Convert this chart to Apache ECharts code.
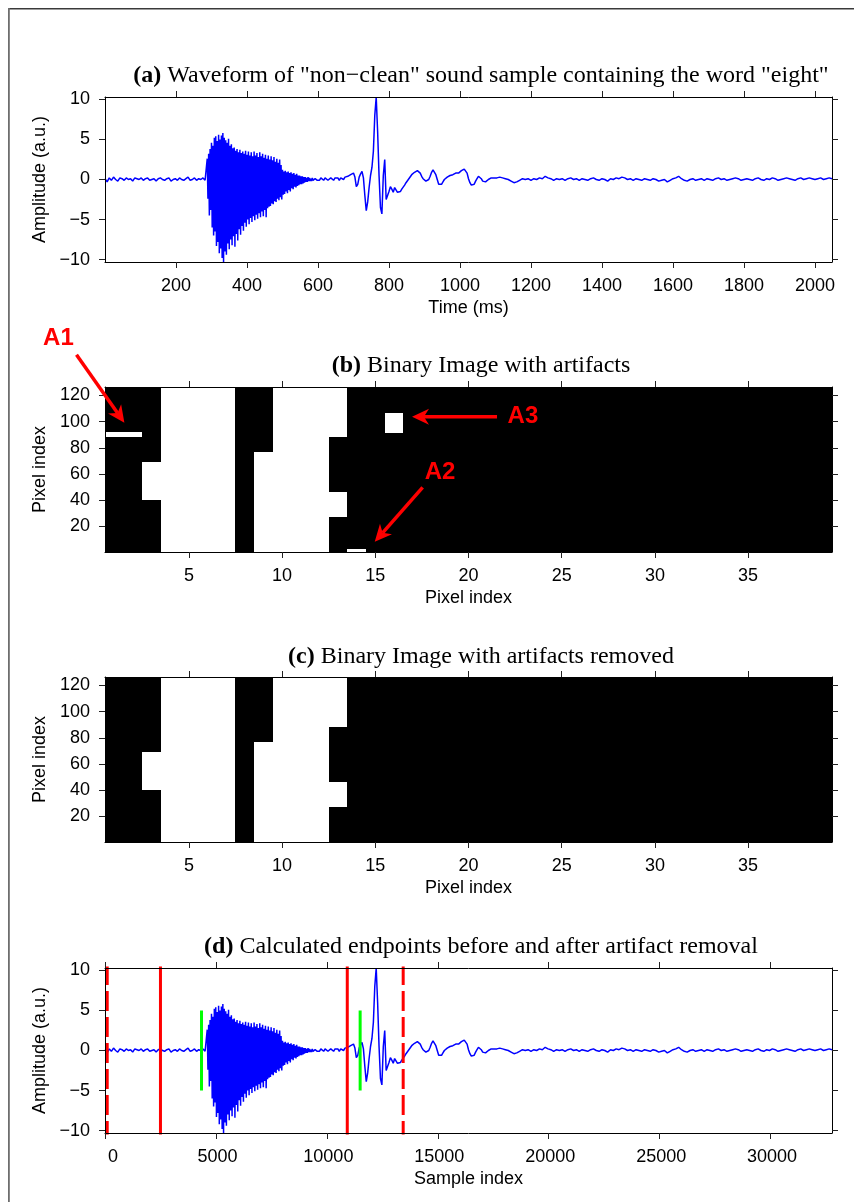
<!DOCTYPE html>
<html><head><meta charset="utf-8">
<script src="https://cdn.jsdelivr.net/npm/echarts@6/dist/echarts.min.js"></script>
<style>html,body{margin:0;padding:0;background:#fff}#c{width:854px;height:1202px}</style>
</head><body><div id="c"></div>
<script>
// ---------------- DATA ----------------
// Waveform (amplitude, a.u.), in segments of uniform time step (ms)
const preStartMs = 0, preStepMs = 6;
const preVals = [0.1,-0.3,0.2,-0.1,0.3,0.0,-0.2,0.2,0.1,-0.1,
 0.2,0.0,0.1,-0.2,0.2,0.1,0.0,0.2,-0.1,0.1,
 0.2,-0.1,0.0,0.1,-0.2,0.1,0.2,0.0,-0.1,0.1,
 0.2,-0.2,0.0,0.1,-0.1,0.2,0.0,-0.1,0.1,0.3,
 -0.1,0.0,0.2,-0.1,0.1,0.0,0.2,-0.1];
const burstStartMs = 286, burstStepMs = 2;
const burstVals = [0.1,2.6,-2.4,3.2,-4.5,3.8,-3.8,4.6,-6.0,4.2,
 -7.0,5.2,-6.5,5.4,-8.3,4.8,-7.8,5.6,-9.2,5.0,
 -8.6,5.5,-9.8,5.8,-10.3,5.2,-9.0,4.9,-9.4,4.6,
 -8.0,5.1,-8.7,4.2,-7.5,4.4,-8.2,3.9,-7.1,4.0,
 -8.4,3.6,-6.8,3.8,-7.6,3.4,-6.2,3.7,-6.9,3.3,
 -5.8,3.5,-6.4,3.2,-5.4,3.6,-5.9,3.1,-5.0,3.5,
 -5.6,3.0,-4.8,3.4,-5.3,2.9,-4.6,3.5,-5.1,3.0,
 -4.4,3.3,-4.9,2.8,-4.2,3.4,-4.7,2.9,-4.0,3.2,
 -4.6,2.7,-3.8,3.1,-4.7,2.6,-3.6,3.0,-3.4,2.5,
 -3.3,2.9,-3.0,2.4,-3.1,2.8,-2.7,2.2,-2.8,2.6,
 -2.4,2.1,-2.6,2.5,-2.2,1.8,-2.5,1.2,-1.9,1.0,
 -1.8,1.1,-1.5,0.9,-1.7,1.0,-1.3,0.8,-1.5,0.9,
 -1.1,0.7,-1.2,0.8,-0.9,0.6,-1.0,0.7,-0.8,0.5,
 -0.7,0.5,-0.6,0.4,-0.6,0.4,-0.5,0.3,-0.4,0.3,
 -0.3,0.2,-0.3,0.3,-0.2,0.2,-0.2,0.1,-0.2,0.2,
 -0.1,0.1,-0.2,0.1,0.0,0.2,-0.1];
const midStartMs = 600, midStepMs = 4;
const midVals = [0.1,-0.1,0.2,0.0,-0.1,0.2,0.1,-0.1,0.1,0.2,
 0.0,-0.1,0.2,0.1,0.2,-0.1,0.2,0.1,0.0,0.3,
 0.1,0.4,0.2,0.6,0.5,0.8,0.3,-0.9,-0.6,0.3,
 0.7,1.0,0.2,-2.0,-3.9,-2.8,-1.0,0.5,1.5,3.5,
 8.0,10.3,6.0,0.5,-3.5,-4.3,0.5,2.5,-2.5,-2.0,
 -1.5,-0.9,-1.2,-1.6,-1.0,-1.2,-1.6,-1.8,-1.5,-1.2,
 -1.0,-0.7,-0.4,-0.2,0.1,0.3,0.6,0.8,0.9,1.0,
 1.1,1.0,0.8,0.4,0.1,-0.1,-0.2,-0.3,0.0,0.4,
 0.9,1.2,1.1,0.6,0.0,-0.6,-0.8,-0.6,-0.3,0.0,
 0.2,0.3,0.4,0.5,0.6,0.6,0.7,0.8,0.9,0.8,
 1.0,1.1,1.2,1.3,1.2,0.8,0.1,-0.4,-0.7,-0.8,
 -0.6,-0.2,0.1,0.4,0.3,0.1,-0.2,-0.4,-0.3,-0.2,
 0.0,0.1,0.2,0.1,0.2,0.3];
const tailStartMs = 1104, tailStepMs = 8;
const tailVals = [0.2,0.3,0.2,0.1,0.0,-0.2,-0.4,-0.3,-0.1,0.1,
 0.0,0.1,-0.1,0.1,0.0,0.2,0.1,0.4,0.2,0.1,
 -0.1,0.1,0.0,0.1,-0.1,0.1,0.2,0.0,0.1,-0.1,
 0.1,0.0,-0.1,0.1,0.2,0.0,-0.1,0.1,0.0,-0.2,
 0.1,0.0,0.2,0.1,0.3,0.2,0.0,0.1,-0.1,0.1,
 0.0,-0.1,0.1,0.0,-0.1,0.1,0.0,-0.2,-0.1,0.0,
 -0.3,-0.1,0.1,0.2,0.4,0.1,-0.1,-0.2,0.0,0.1,
 -0.1,0.0,0.1,-0.1,0.1,0.0,-0.1,0.1,0.2,0.0,
 0.1,-0.1,0.0,0.1,0.2,0.1,-0.1,0.0,0.1,0.0,
 -0.1,0.1,0.2,0.0,-0.1,0.1,0.0,0.2,0.1,-0.1,
 0.0,0.1,0.2,0.1,0.0,-0.1,0.1,0.2,0.0,0.1,
 0.2,0.1,0.0,0.1,0.2,0.0,0.1,0.2,0.1];
const samplesPerMs = 16;

// Binary images: white runs per column [column, firstRow, lastRow]
const imgWithArtifacts = [
 [1,89,92],[2,89,92],
 [3,41,69],
 [4,1,126],[5,1,126],[6,1,126],[7,1,126],
 [9,1,76],
 [10,1,126],[11,1,126],[12,1,126],
 [13,89,126],[13,28,46],
 [14,1,2],
 [16,92,106]
];
const imgArtifactsRemoved = [
 [3,41,69],
 [4,1,126],[5,1,126],[6,1,126],[7,1,126],
 [9,1,76],
 [10,1,126],[11,1,126],[12,1,126],
 [13,89,126],[13,28,46]
];

// Endpoints (sample index)
const endpointsBeforeDashed = [100, 13440];
const endpointsSolidRed = [2500, 10920];
const endpointsGreen = [4350, 11500];
const greenHalfHeight = 5;

// Tick values
const ticksTimeMs = [200,400,600,800,1000,1200,1400,1600,1800,2000];
const ticksAmp = [-10,-5,0,5,10];
const ticksPixelX = [5,10,15,20,25,30,35];
const ticksPixelY = [20,40,60,80,100,120];
const ticksSample = [0,5000,10000,15000,20000,25000,30000];

// Annotations in panel (b) data units
const annA1 = {label:'A1', text:[-2.0,163.3], tail:[-1.03,151.1], tip:[1.54,99.2]};
const annA2 = {label:'A2', text:[18.47,61.0], tail:[17.54,49.8], tip:[14.97,8.3]};
const annA3 = {label:'A3', text:[22.92,103.7], tail:[21.53,103.7], tip:[16.97,103.7]};

// ---------------- BUILD ----------------
function seg(t0, step, vals){ return vals.map((v,i)=>[t0+i*step, v]); }
const waveMs = [].concat(seg(preStartMs,preStepMs,preVals), seg(burstStartMs,burstStepMs,burstVals),
  seg(midStartMs,midStepMs,midVals), seg(tailStartMs,tailStepMs,tailVals));
const waveSamples = waveMs.map(p=>[p[0]*samplesPerMs, p[1]]);

const SANS = 'Liberation Sans', SERIF = 'Liberation Serif';
const minus = v => String(v).replace('-', '\u2212');
const AMP_MIN = -10.3, AMP_MAX = 10.3;
const FS = 18;

function xAxes(grid, min, max, ticks, name, fmt){
  const common = {gridIndex:grid, type:'value', min, max, z:10,
    splitLine:{show:false},
    axisLine:{show:true, onZero:false, lineStyle:{color:'#000', width:1}},
    axisTick:{show:true, inside:false, length:6, customValues:ticks, lineStyle:{color:'#222', width:1}}};
  return [
    Object.assign({}, common, {position:'bottom',
      axisLabel:{show:true, customValues:ticks, formatter:fmt||(v=>String(v)), fontFamily:SANS, fontSize:FS, color:'#000', margin:15},
      name, nameLocation:'middle', nameGap:37, nameTextStyle:{fontFamily:SANS, fontSize:FS, color:'#000'}}),
    Object.assign({}, common, {position:'top', axisLabel:{show:false}})
  ];
}
function yAxes(grid, min, max, ticks, name, fmt){
  const common = {gridIndex:grid, type:'value', min, max, z:10,
    splitLine:{show:false},
    axisLine:{show:true, onZero:false, lineStyle:{color:'#000', width:1}},
    axisTick:{show:true, inside:false, length:6, customValues:ticks, lineStyle:{color:'#222', width:1}}};
  return [
    Object.assign({}, common, {position:'left',
      axisLabel:{show:true, customValues:ticks, formatter:fmt||(v=>String(v)), fontFamily:SANS, fontSize:FS, color:'#000', margin:15},
      name, nameLocation:'middle', nameGap:51, nameTextStyle:{fontFamily:SANS, fontSize:FS, color:'#000'}}),
    Object.assign({}, common, {position:'right', axisLabel:{show:false}})
  ];
}

const gridTops = [97, 387, 677, 968];
const grids = gridTops.map((t,i)=>({left:105, right:22, top:t, height:165,
  show:(i===1||i===2), backgroundColor:'#000', borderWidth:0}));

function renderCell(params, api){
  const c = api.value(0), r0 = api.value(1), r1 = api.value(2);
  const p0 = api.coord([c-0.5, r1+0.5]);
  const p1 = api.coord([c+0.5, r0-0.5]);
  const x0 = Math.round(p0[0]), x1 = Math.round(p1[0]);
  const y0 = Math.round(p0[1]), y1 = Math.round(p1[1]);
  return {type:'rect', shape:{x:x0, y:y0, width:Math.max(1,x1-x0), height:Math.max(1,y1-y0)},
    style:{fill:'#fff'}};
}

function vline(x, y0, y1, color, dashed, xi, yi){
  return {type:'line', xAxisIndex:xi, yAxisIndex:yi, data:[[x,y0],[x,y1]], showSymbol:false, symbol:'none',
    silent:true, z:5, lineStyle:{color, width:3, type: dashed ? [20,6] : 'solid'}};
}

const TFS = 24;
const titleStyle = {fontFamily:SERIF, fontSize:TFS, color:'#000', fontWeight:'normal',
  rich:{b:{fontFamily:SERIF, fontSize:TFS, fontWeight:'bold', color:'#000'}}};
const titleCenters = [73, 363, 654, 944];
const titles = [
  '{b|(a)} Waveform of "non\u2212clean" sound sample containing the word "eight"',
  '{b|(b)} Binary Image with artifacts',
  '{b|(c)} Binary Image with artifacts removed',
  '{b|(d)} Calculated endpoints before and after artifact removal'
].map((t,i)=>({text:t, left:476, top:titleCenters[i]-14, textAlign:'center', textStyle:titleStyle}));

const waveStyle = {color:'#0000ff', width:1.5};
const series = [
  {type:'line', xAxisIndex:0, yAxisIndex:0, data:waveMs, showSymbol:false, symbol:'none', sampling:'none',
   lineStyle:waveStyle, z:2},
  {type:'custom', xAxisIndex:2, yAxisIndex:2, data:imgWithArtifacts, renderItem:renderCell, encode:{x:0, y:[1,2]}, z:2},
  {type:'custom', xAxisIndex:4, yAxisIndex:4, data:imgArtifactsRemoved, renderItem:renderCell, encode:{x:0, y:[1,2]}, z:2},
  {type:'line', xAxisIndex:6, yAxisIndex:6, data:waveSamples, showSymbol:false, symbol:'none', sampling:'none',
   lineStyle:waveStyle, z:2}
];
endpointsBeforeDashed.forEach(x=>series.push(vline(x, AMP_MIN-1, AMP_MAX+1, '#ff0000', true, 6, 6)));
endpointsSolidRed.forEach(x=>series.push(vline(x, AMP_MIN-1, AMP_MAX+1, '#ff0000', false, 6, 6)));
endpointsGreen.forEach(x=>series.push(vline(x, -greenHalfHeight, greenHalfHeight, '#00ff00', false, 6, 6)));

const xs = [].concat(
    xAxes(0, 0, 2048, ticksTimeMs, 'Time (ms)'),
    xAxes(1, 0.5, 39.5, ticksPixelX, 'Pixel index'),
    xAxes(2, 0.5, 39.5, ticksPixelX, 'Pixel index'),
    xAxes(3, 0, 32768, ticksSample, 'Sample index'));
xs[6].axisLabel.alignMinLabel = 'left';
xs[6].axisLabel.padding = [0,0,0,3];

const option = {
  animation:false,
  backgroundColor:'#fff',
  title:titles,
  grid:grids,
  xAxis:xs,
  yAxis:[].concat(
    yAxes(0, AMP_MIN, AMP_MAX, ticksAmp, 'Amplitude (a.u.)', minus),
    yAxes(1, 0.5, 126.5, ticksPixelY, 'Pixel index'),
    yAxes(2, 0.5, 126.5, ticksPixelY, 'Pixel index'),
    yAxes(3, AMP_MIN, AMP_MAX, ticksAmp, 'Amplitude (a.u.)', minus)),
  series
};

const chart = echarts.init(document.getElementById('c'), null, {renderer:'canvas'});
chart.setOption(option);

// annotations + frame
function arrowGraphics(ann){
  const P = v => chart.convertToPixel({xAxisIndex:2, yAxisIndex:2}, v);
  const t = P(ann.text), a = P(ann.tail), b = P(ann.tip);
  const dx = b[0]-a[0], dy = b[1]-a[1], L = Math.hypot(dx,dy), ux = dx/L, uy = dy/L;
  const hl = 17, hw = 8;
  const base = [b[0]-ux*hl, b[1]-uy*hl];
  const notch = [b[0]-ux*hl*0.7, b[1]-uy*hl*0.7];
  const left = [base[0]-uy*hw, base[1]+ux*hw], right = [base[0]+uy*hw, base[1]-ux*hw];
  return [
    {type:'line', shape:{x1:a[0], y1:a[1], x2:notch[0], y2:notch[1]}, style:{stroke:'#ff0000', lineWidth:3.5}, z:100},
    {type:'polygon', shape:{points:[b, left, notch, right]}, style:{fill:'#ff0000'}, z:100},
    {type:'text', x:t[0], y:t[1], style:{text:ann.label, fill:'#ff0000', font:'bold 24px "Liberation Sans"', align:'center', verticalAlign:'middle'}, z:100}
  ];
}
const gfx = [
  {type:'rect', shape:{x:8, y:8, width:846, height:1.6}, style:{fill:'#3a3a3a'}, z:100},
  {type:'rect', shape:{x:8, y:8, width:1.8, height:1194}, style:{fill:'#6e6e6e'}, z:100}
].concat(arrowGraphics(annA1), arrowGraphics(annA2), arrowGraphics(annA3));
chart.setOption({graphic:gfx});
</script></body></html>
